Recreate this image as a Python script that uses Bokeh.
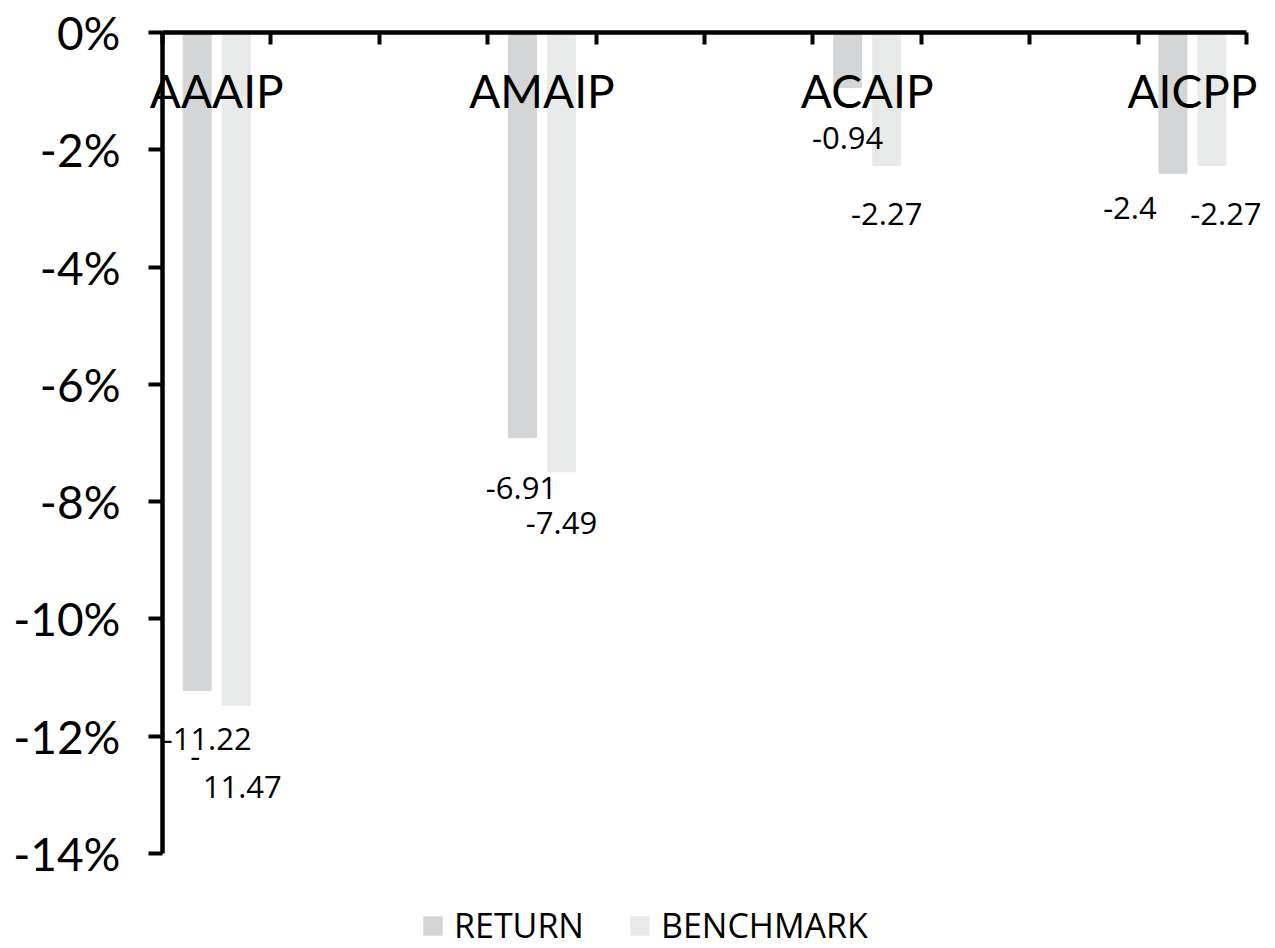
from bokeh.plotting import figure
from bokeh.models import (ColumnDataSource, Label, Legend, LegendItem, Range1d,
                          FixedTicker, PrintfTickFormatter)
from bokeh.embed import file_html
from bokeh.resources import INLINE

# ---- data ----
categories = ["AAAIP", "AMAIP", "ACAIP", "AICPP"]
returns = [-11.22, -6.91, -0.94, -2.4]
benchmark = [-11.47, -7.49, -2.27, -2.27]
y_ticks = [0, -2, -4, -6, -8, -10, -12, -14]

# ---- styling / layout constants ----
RET_COLOR = "#d4d5d7"
BEN_COLOR = "#e8e9e9"
BAR_W = 0.086
DODGE = 0.06
TICK_FONT = "Lato"
LBL_FONT = "Open Sans"
# label nudges in screen px (negative y = down)
ret_dx = [10, -1, 0, -43]
ret_dy = [-49, -50, -50, -35]
ben_dx = [0, 0, 0, 14]
ben_dy = [-49, -51, -48, -48]

xs = list(range(len(categories)))
xr = [x - DODGE for x in xs]
xb = [x + DODGE for x in xs]

p = figure(width=1275, height=948, output_backend="svg", toolbar_location=None,
           x_axis_location="above",
           x_range=Range1d(-1 / 6, 3.2554), y_range=Range1d(-15.62, 0),
           min_border_left=162, min_border_right=0, min_border_top=32,
           min_border_bottom=0)
p.outline_line_color = None
p.xgrid.visible = False
p.ygrid.visible = False
p.background_fill_color = "white"
p.border_fill_color = "white"

# top (zero-line) axis: inward minor ticks, category names as major labels
p.xaxis.bounds = (-1 / 6, 19 / 6)
p.xaxis.ticker = FixedTicker(ticks=xs,
                             minor_ticks=[-1 / 6 + k / 3 for k in range(10)] + [19 / 6 - 0.001])
p.xaxis.major_label_overrides = {float(x): c for x, c in zip(xs, categories)}
p.xaxis.major_label_text_font = TICK_FONT
p.xaxis.major_label_text_font_size = "46px"
p.xaxis.major_label_text_color = "black"
p.xaxis.major_label_standoff = -85
p.xaxis.axis_line_width = 4.5
p.xaxis.axis_line_color = "black"
p.xaxis.major_tick_in = 0
p.xaxis.major_tick_out = 0
p.xaxis.minor_tick_in = 12
p.xaxis.minor_tick_out = 0
p.xaxis.minor_tick_line_width = 4
p.xaxis.minor_tick_line_color = "black"

# left axis
p.yaxis.bounds = (-14, 0)
p.yaxis.ticker = FixedTicker(ticks=y_ticks)
p.yaxis.formatter = PrintfTickFormatter(format="%d%%")
p.yaxis.axis_line_width = 4.5
p.yaxis.axis_line_color = "black"
p.yaxis.major_tick_in = 0
p.yaxis.major_tick_out = 14
p.yaxis.major_tick_line_width = 4
p.yaxis.major_tick_line_color = "black"
p.yaxis.minor_tick_line_color = None
p.yaxis.major_label_standoff = 28
p.yaxis.major_label_text_font = TICK_FONT
p.yaxis.major_label_text_font_size = "46px"
p.yaxis.major_label_text_color = "black"

src = ColumnDataSource(dict(xr=xr, xb=xb, ret=returns, ben=benchmark))
r1 = p.vbar(x="xr", top="ret", bottom=0, width=BAR_W, color=RET_COLOR, source=src)
r2 = p.vbar(x="xb", top="ben", bottom=0, width=BAR_W, color=BEN_COLOR, source=src)


def add_text(x, y, text, dx, dy, size, font):
    p.add_layout(Label(x=x, y=y, text=text, x_offset=dx, y_offset=dy,
                       text_align="center", text_baseline="alphabetic",
                       text_font=font, text_font_size=size, text_color="black"))


# value labels
for i in xs:
    add_text(xr[i], returns[i], f"{returns[i]:g}", ret_dx[i], ret_dy[i], "31px", LBL_FONT)
    t = f"{benchmark[i]:g}"
    if i == 0:
        # this label wraps onto two lines in the original
        add_text(xb[i], benchmark[i], t[0], -41, -51, "31px", LBL_FONT)
        add_text(xb[i], benchmark[i], t[1:], 6, -82, "31px", LBL_FONT)
    else:
        add_text(xb[i], benchmark[i], t, ben_dx[i], ben_dy[i], "31px", LBL_FONT)

legend = Legend(items=[LegendItem(label="RETURN", renderers=[r1]),
                       LegendItem(label="BENCHMARK", renderers=[r2])],
                location=(259, 0), orientation="horizontal",
                glyph_width=23, glyph_height=23, label_standoff=10, spacing=44,
                padding=0, margin=0, border_line_color=None, background_fill_alpha=0,
                label_text_font=LBL_FONT, label_text_font_size="34px",
                label_text_color="black")
p.add_layout(legend)

open("out.html", "w").write(file_html(p, INLINE))
